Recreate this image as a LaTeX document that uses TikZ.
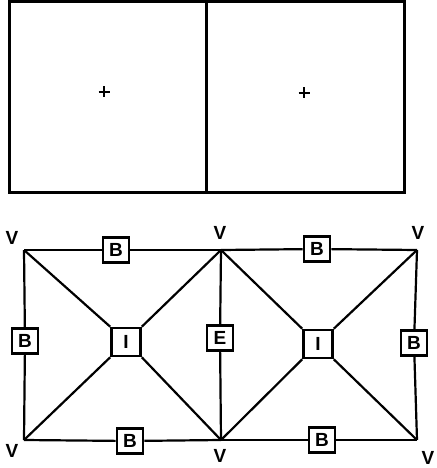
\documentclass[tikz,border=0pt]{standalone}
\usepackage{fontspec}
\setmainfont{Liberation Sans}
\usepackage{tikz}
\usetikzlibrary{positioning,calc}

\begin{document}
\begin{tikzpicture}[x=1pt, y=-1pt,
    cell/.style={line width=3pt},
    edge/.style={line width=2.2pt},
    tagbox/.style={draw, line width=2.6pt, fill=white, minimum width=26pt, minimum height=25pt, inner sep=0pt, font=\fontsize{19}{19}\selectfont\bfseries},
    ibox/.style={tagbox, minimum width=29pt, minimum height=28pt},
    vlabel/.style={font=\fontsize{19}{19}\selectfont\bfseries, inner sep=0pt}
]
    \useasboundingbox (0,0) rectangle (436,468);

    % Top: two cells with centre marks
    \draw[cell] (9,2) rectangle (404,192);
    \draw[cell] (206,2) -- (206,192);
    \coordinate (c1) at (104,92);
    \coordinate (c2) at (304,93);
    \foreach \c in {c1,c2} {
        \draw[line width=2.8pt] ($(\c)+(-5.5,0)$) -- ($(\c)+(5.5,0)$);
        \draw[line width=2.8pt] ($(\c)+(0,-5.5)$) -- ($(\c)+(0,5.5)$);
    }

    % Vertices
    \coordinate (v1) at (24,250);
    \coordinate (v2) at (221,250);
    \coordinate (v3) at (417,250);
    \coordinate (v4) at (24,440);
    \coordinate (v5) at (221,440);
    \coordinate (v6) at (417,440);

    \node[vlabel] (l1) at (12,238) {V};
    \node[vlabel] (l2) at (220,233) {V};
    \node[vlabel] (l3) at (418,233) {V};
    \node[vlabel] (l4) at (12,451) {V};
    \node[vlabel] (l5) at (220,456) {V};
    \node[vlabel] (l6) at (428,458) {V};

    % Element tags
    \node[ibox] (i1) at (126,342) {I};
    \node[ibox] (i2) at (318,344) {I};
    \node[tagbox] (e1) at (220,338) {E};
    \node[tagbox] (b1) at (116,250) {B};
    \node[tagbox] (b2) at (317,249) {B};
    \node[tagbox] (b3) at (25,341) {B};
    \node[tagbox] (b4) at (414,343) {B};
    \node[tagbox] (b5) at (130,441) {B};
    \node[tagbox] (b6) at (322,440) {B};

    % Boundary and interior edges
    \draw[edge] (v1) -- (b1) -- (v2);
    \draw[edge] (v2) -- (b2) -- (v3);
    \draw[edge] (v4) -- (b5) -- (v5);
    \draw[edge] (v5) -- (b6) -- (v6);
    \draw[edge] (v1) -- (b3) -- (v4);
    \draw[edge] (v3) -- (b4) -- (v6);
    \draw[edge] (v2) -- (e1) -- (v5);

    % Diagonals to the interior tags
    \draw[edge] (v1) -- (i1.north west);
    \draw[edge] (v2) -- (i1.north east);
    \draw[edge] (v4) -- (i1.south west);
    \draw[edge] (v5) -- (i1.south east);
    \draw[edge] (v2) -- (i2.north west);
    \draw[edge] (v3) -- (i2.north east);
    \draw[edge] (v5) -- (i2.south west);
    \draw[edge] (v6) -- (i2.south east);
\end{tikzpicture}
\end{document}
